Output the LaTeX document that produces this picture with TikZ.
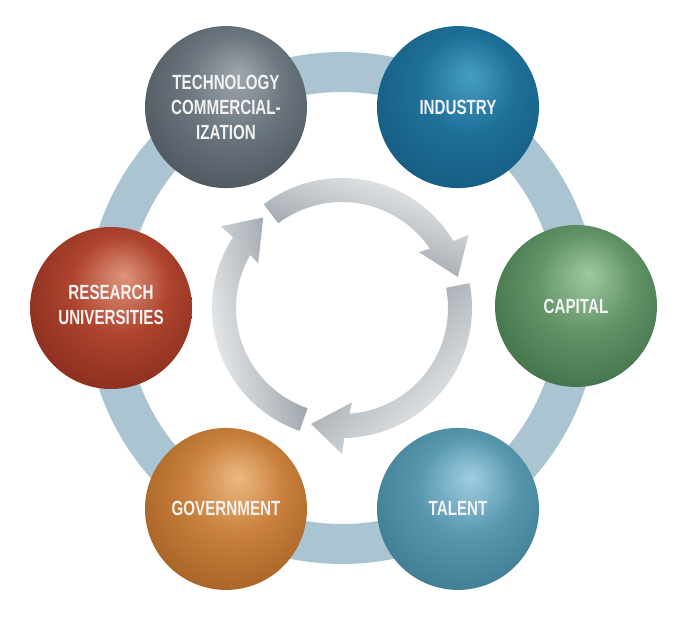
\documentclass[tikz,border=0pt]{standalone}
\usepackage{fontspec}
\newfontfamily\labfont[FakeStretch=0.74]{Liberation Sans}
\definecolor{ringc}{RGB}{170,197,209}
\definecolor{labc}{RGB}{242,242,242}
\definecolor{arL}{RGB}{240,242,243}
\definecolor{arD}{RGB}{134,143,151}
% sphere colours: highlight, base, edge
\definecolor{techH}{RGB}{160,168,175}\definecolor{techB}{RGB}{108,118,126}\definecolor{techE}{RGB}{78,87,95}
\definecolor{indH}{RGB}{70,158,196}\definecolor{indB}{RGB}{30,112,153}\definecolor{indE}{RGB}{22,92,130}
\definecolor{capH}{RGB}{160,202,160}\definecolor{capB}{RGB}{98,148,104}\definecolor{capE}{RGB}{66,114,74}
\definecolor{talH}{RGB}{160,206,226}\definecolor{talB}{RGB}{88,152,175}\definecolor{talE}{RGB}{62,124,147}
\definecolor{govH}{RGB}{236,184,130}\definecolor{govB}{RGB}{201,128,60}\definecolor{govE}{RGB}{166,98,38}
\definecolor{resH}{RGB}{224,148,124}\definecolor{resB}{RGB}{174,68,46}\definecolor{resE}{RGB}{138,46,30}
\newcommand\mksph[4]{\pgfdeclareradialshading{#1}{\pgfqpoint{4bp}{10bp}}{color(0bp)=(#2); color(15bp)=(#3); color(31bp)=(#4); color(50bp)=(#4)}}
\mksph{sphTech}{techH}{techB}{techE}
\mksph{sphInd}{indH}{indB}{indE}
\mksph{sphCap}{capH}{capB}{capE}
\mksph{sphTal}{talH}{talB}{talE}
\mksph{sphGov}{govH}{govB}{govE}
\mksph{sphRes}{resH}{resB}{resE}
\newcommand\cyclearrow[3]{%
  \shade[arrowshade, shading angle=#3]
    ({#1}:130) arc[start angle={#1}, end angle={#2+16}, radius=130]
    -- ({#2+15}:146) -- ({#2}:120) -- ({#2+21}:95) -- ({#2+19}:106)
    arc[start angle={#2+19}, end angle={#1}, radius=106] -- cycle;}
\begin{document}
\begin{tikzpicture}[x=1pt,y=1pt,
  sph/.style={circle, minimum size=162pt, inner sep=0pt, shade, text=labc, align=center,
    font=\labfont\bfseries\fontsize{20.5}{25}\selectfont},
  ringband/.style={draw=ringc, line width=40pt},
  arrowshade/.style={left color=arL, right color=arD}]
\useasboundingbox[fill=white] (-342,-329) rectangle (348,308);
% outer ring
\draw[ringband] (0,0) circle[radius=236];
% spheres
\node[sph, shading=sphTech] (tech) at (120:232) {TECHNOLOGY\\COMMERCIAL-\\IZATION};
\node[sph, shading=sphInd] (ind) at (60:232) {INDUSTRY};
\node[sph, shading=sphCap] (cap) at (234,2) {CAPITAL};
\node[sph, shading=sphTal] (tal) at (-60:232) {TALENT};
\node[sph, shading=sphGov] (gov) at (-120:232) {GOVERNMENT};
\node[sph, shading=sphRes] (res) at (180:231) {RESEARCH\\UNIVERSITIES\\[-19pt]};
% central cycle arrows
\cyclearrow{127}{15}{341}
\cyclearrow{11}{-105}{223}
\cyclearrow{251}{131}{101}
\end{tikzpicture}
\end{document}
